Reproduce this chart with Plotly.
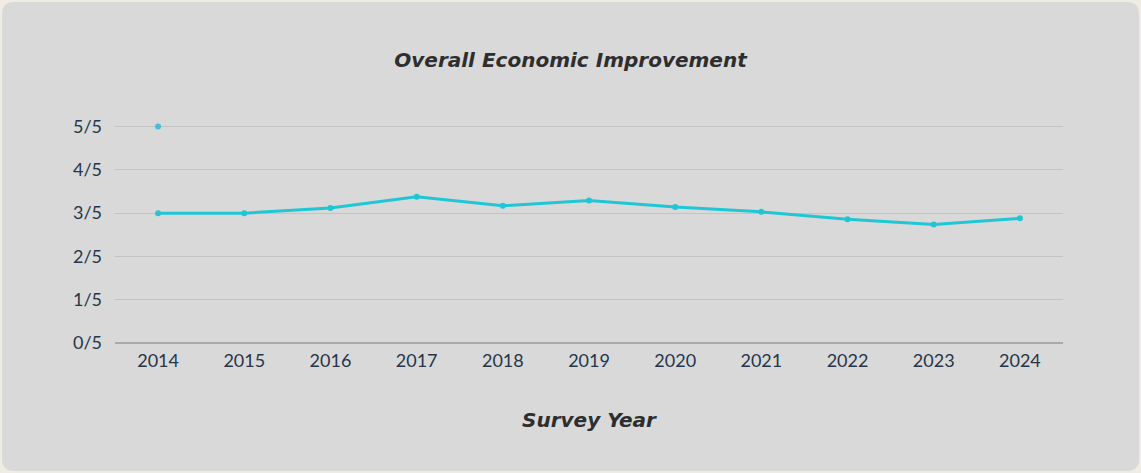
import plotly.graph_objects as go

# Survey data
years = ["2014", "2015", "2016", "2017", "2018", "2019", "2020", "2021", "2022", "2023", "2024"]
score = [3.0, 3.0, 3.12, 3.38, 3.17, 3.29, 3.14, 3.03, 2.86, 2.74, 2.88]
outlier_year = ["2014"]
outlier_score = [5.0]
y_ticks = [0, 1, 2, 3, 4, 5]
y_labels = [f"{v}/5" for v in y_ticks]

W, H = 1141, 473
L, R, T, B = 115, 78, 124, 130
pw, ph = W - L - R, H - T - B

def px(x):
    return (x - L) / pw

def py(y):
    return 1 - (y - T) / ph

# rounded card behind the chart
x0, x1, y0, y1, rad = 2, 1139, 2, 471, 12
rx, ry = rad / pw, rad / ph
card = (
    f"M {px(x0)+rx},{py(y0)} L {px(x1)-rx},{py(y0)} Q {px(x1)},{py(y0)} {px(x1)},{py(y0)-ry} "
    f"L {px(x1)},{py(y1)+ry} Q {px(x1)},{py(y1)} {px(x1)-rx},{py(y1)} "
    f"L {px(x0)+rx},{py(y1)} Q {px(x0)},{py(y1)} {px(x0)},{py(y1)+ry} "
    f"L {px(x0)},{py(y0)-ry} Q {px(x0)},{py(y0)} {px(x0)+rx},{py(y0)} Z"
)

fig = go.Figure()
fig.add_trace(go.Scatter(
    x=years, y=score, mode="lines+markers",
    line=dict(color="#1fc6d6", width=3),
    marker=dict(color="#1fc6d6", size=6),
    cliponaxis=False, showlegend=False,
))
fig.add_trace(go.Scatter(
    x=outlier_year, y=outlier_score, mode="markers",
    marker=dict(color="#45bde0", size=6),
    cliponaxis=False, showlegend=False,
))

tick_font = dict(family="Lato", size=18, color="#26364a")
hand_font = dict(family="DejaVu Sans", size=20, color="#2e2e2e", style="italic", weight="bold")

fig.update_layout(
    width=W, height=H,
    margin=dict(l=L, r=R, t=T, b=B),
    paper_bgcolor="#efece3",
    plot_bgcolor="rgba(0,0,0,0)",
    title=dict(text="Overall Economic Improvement", x=0.5, xanchor="center",
               y=1 - 60 / H, yanchor="middle", font=hand_font),
    shapes=[dict(type="path", xref="paper", yref="paper", path=card,
                 fillcolor="#d9d9d9", line=dict(width=0), layer="below")],
    xaxis=dict(
        type="category", categoryorder="array", categoryarray=years,
        range=[-0.5, len(years) - 0.5],
        showgrid=False, zeroline=False, showline=False,
        tickfont=tick_font, ticks="", ticklabelstandoff=5,
        title=dict(text="Survey Year", font=hand_font, standoff=42),
    ),
    yaxis=dict(
        range=[0, 5.06], tickvals=y_ticks, ticktext=y_labels,
        showgrid=True, gridcolor="#c3c3c3", gridwidth=1,
        zeroline=True, zerolinecolor="#a9a9a9", zerolinewidth=2,
        showline=False, ticks="", ticklabelstandoff=12,
        tickfont=tick_font,
    ),
)

fig.write_html("out.html")
